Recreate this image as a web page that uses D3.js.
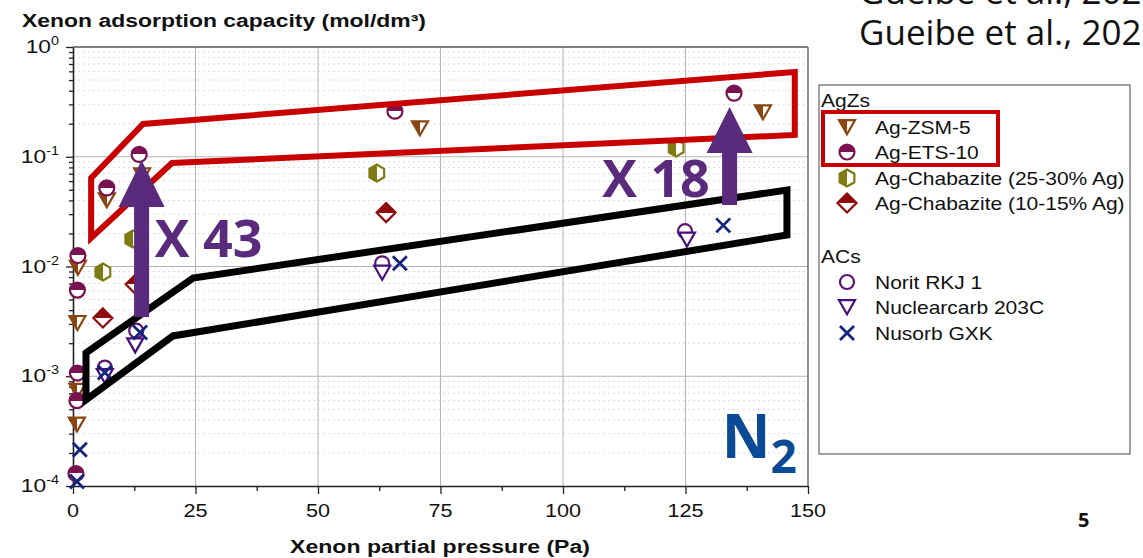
<!DOCTYPE html>
<html><head><meta charset="utf-8">
<script src="https://cdn.jsdelivr.net/npm/d3@7"></script>
<style>body{margin:0;background:#fff}svg{display:block}</style>
</head><body><svg id="c" width="1143" height="558"></svg>
<script>
// ---------- data ----------
const xTickValues=[0,25,50,75,100,125,150];
const yTickExponents=[0,-1,-2,-3,-4];
const seriesNames=["Ag-ZSM-5","Ag-ETS-10","Ag-Chabazite (25-30% Ag)","Ag-Chabazite (10-15% Ag)","Norit RKJ 1","Nuclearcarb 203C","Nusorb GXK"];
const zsm5X=[1.0,0.9,0.9,0.8,6.9,14.1,70.8,140.8];
const zsm5Y=[0.0102,0.0032,0.00077,0.00038,0.042,0.071,0.19,0.266];
const ets10X=[1.0,0.9,0.9,0.8,0.6,6.9,13.5,65.7,134.9];
const ets10Y=[0.0126,0.0061,0.00107,0.0006,0.00013,0.052,0.105,0.26,0.38];
const cha25X=[6.1,12.2,62.0,123.1];
const cha25Y=[0.0089,0.0178,0.071,0.12];
const cha10X=[6.1,12.7,63.9];
const cha10Y=[0.0034,0.0069,0.031];
const noritX=[6.5,12.9,63.1,124.9];
const noritY=[0.0012,0.0026,0.0107,0.021];
const nucX=[6.5,12.7,63.1,125.3];
const nucY=[0.00105,0.0020,0.0092,0.0184];
const nusorbX=[1.4,0.8,6.5,13.7,66.7,132.7];
const nusorbY=[0.000214,0.00011,0.00108,0.0025,0.0107,0.0237];
// annotation outlines (data units)
const redBox=[[3.7,0.064],[14.3,0.199],[147.3,0.592],[147.3,0.158],[20.2,0.0877],[3.7,0.0182]];
const blackBox=[[2.65,0.00163],[24.5,0.00785],[145.7,0.0498],[145.7,0.0194],[20.4,0.00233],[2.65,0.00061]];
const arrows=[{x:14.0,tip:0.093,base:0.0348,bottom:0.00347},{x:134.0,tip:0.284,base:0.108,bottom:0.0363}];
const notes=[{t:"X 43",x:16.7,y:0.0122},{t:"X 18",x:108,y:0.043}];

// ---------- setup ----------
const svg=d3.select("#c");
const x=d3.scaleLinear().domain([0,150]).range([73,808]);
const y=d3.scaleLog().domain([1e-4,1]).range([486,47]);
const SX=1.2;
const FONT="'Liberation Sans', Arial, sans-serif";
function place(sel,px,py,sx){return sel.attr("transform",`translate(${px},${py}) scale(${sx},1)`);}

const defs=svg.append("defs");
function grad(id,color,dir){
  const gr=defs.append("linearGradient").attr("id",id)
    .attr("x1",0).attr("y1",0).attr("x2",dir==="left"?1:0).attr("y2",dir==="top"?1:0);
  [[0,color],[0.5,color],[0.5,"#fff"],[1,"#fff"]].forEach(s=>gr.append("stop").attr("offset",s[0]).attr("stop-color",s[1]));
  return `url(#${id})`;
}

// shapes
const shapes={
  circle:s=>d3.symbol(d3.symbolCircle,Math.PI*s*s)(),
  tri:s=>`M${-s},${-0.6*s}L${s},${-0.6*s}L0,${1.15*s}Z`,
  hex:s=>{const p=d3.range(6).map(k=>{const a=-Math.PI/2+k*Math.PI/3;return [s*Math.cos(a),s*Math.sin(a)];});return "M"+p.join("L")+"Z";},
  diamond:s=>`M0,${-s}L${s},0L0,${s}L${-s},0Z`,
  cross:s=>`M${-s},${-s}L${s},${s}M${-s},${s}L${s},${-s}`
};

const series=[
  {name:seriesNames[0],xs:zsm5X,ys:zsm5Y,shape:"tri",size:8,color:"#8a4510",half:"left"},
  {name:seriesNames[1],xs:ets10X,ys:ets10Y,shape:"circle",size:7.5,color:"#7a1150",half:"top"},
  {name:seriesNames[2],xs:cha25X,ys:cha25Y,shape:"hex",size:8.5,color:"#7f7a12",half:"left"},
  {name:seriesNames[3],xs:cha10X,ys:cha10Y,shape:"diamond",size:9.5,color:"#900c0c",half:"top"},
  {name:seriesNames[4],xs:noritX,ys:noritY,shape:"circle",size:7,color:"#5d1670",half:"none"},
  {name:seriesNames[5],xs:nucX,ys:nucY,shape:"tri",size:8,color:"#46107a",half:"none"},
  {name:seriesNames[6],xs:nusorbX,ys:nusorbY,shape:"cross",size:7,color:"#14237f",half:"none"}
];
series.forEach((s,i)=>{s.fill=s.half==="none"?(s.shape==="cross"?"none":"#fff"):grad("g"+i,s.color,s.half);});

// ---------- grid ----------
const grid=svg.append("g");
const minor=[];for(let e=-4;e<0;e++)for(let k=2;k<=9;k++)minor.push(k*Math.pow(10,e));
grid.selectAll(".mh").data(minor).join("line")
  .attr("x1",x(0)).attr("x2",x(150)).attr("y1",d=>y(d)).attr("y2",d=>y(d))
  .attr("stroke","#dcdcdc").attr("stroke-width",1).attr("stroke-dasharray","2,3");
grid.selectAll(".Mh").data([1e-3,1e-2,1e-1]).join("line")
  .attr("x1",x(0)).attr("x2",x(150)).attr("y1",d=>y(d)).attr("y2",d=>y(d))
  .attr("stroke","#b4b4b4").attr("stroke-width",1);
grid.selectAll(".Mv").data(xTickValues.slice(1,-1)).join("line")
  .attr("x1",d=>x(d)).attr("x2",d=>x(d)).attr("y1",y(1)).attr("y2",y(1e-4))
  .attr("stroke","#b4b4b4").attr("stroke-width",1);
// frame
svg.append("line").attr("x1",x(0)).attr("x2",x(150)).attr("y1",y(1)).attr("y2",y(1)).attr("stroke","#555").attr("stroke-width",1.3);
svg.append("line").attr("x1",x(150)).attr("x2",x(150)).attr("y1",y(1)).attr("y2",y(1e-4)).attr("stroke","#555").attr("stroke-width",1.3);

// ---------- axes ----------
const decades=yTickExponents.map(e=>Math.pow(10,e));
const ax=svg.append("g").attr("transform",`translate(${x(0)},0)`);
ax.call(d3.axisLeft(y).tickValues(minor).tickSize(4).tickSizeOuter(0).tickFormat(""));
ax.call(g=>g.select(".domain").remove());
const ax2=svg.append("g").attr("transform",`translate(${x(0)},0)`);
ax2.call(d3.axisLeft(y).tickValues(decades).tickSize(7).tickSizeOuter(0).tickFormat(""));
[ax,ax2].forEach(a=>a.selectAll("line").attr("stroke","#222").attr("stroke-width",1.3));
ax2.select(".domain").attr("stroke","#222").attr("stroke-width",1.6);

const bx=svg.append("g").attr("transform",`translate(0,${y(1e-4)})`);
bx.call(d3.axisBottom(x).tickValues(d3.range(12.5,150,25)).tickSize(5).tickSizeOuter(0).tickFormat(""));
bx.select(".domain").remove();
const bx2=svg.append("g").attr("transform",`translate(0,${y(1e-4)})`);
bx2.call(d3.axisBottom(x).tickValues(xTickValues).tickSize(8).tickSizeOuter(0).tickFormat(""));
[bx,bx2].forEach(a=>a.selectAll("line").attr("stroke","#222").attr("stroke-width",1.3));
bx2.select(".domain").attr("stroke","#222").attr("stroke-width",1.6);

// tick labels
xTickValues.forEach(v=>{
  place(svg.append("text"),x(v),517,SX).attr("text-anchor","middle").attr("font-family",FONT).attr("font-size",18).attr("fill","#111").text(v);
});
yTickExponents.forEach(e=>{
  const t=place(svg.append("text"),59,y(Math.pow(10,e))+6,SX).attr("text-anchor","end").attr("font-family",FONT).attr("font-size",19).attr("fill","#111");
  t.append("tspan").text("10");
  t.append("tspan").attr("dy",-8).attr("font-size",12).text(e);
});
// titles
svg.append("text").attr("x",22).attr("y",27).attr("font-family",FONT).attr("font-weight","bold").attr("font-size",18)
  .attr("textLength",404).attr("lengthAdjust","spacingAndGlyphs").attr("fill","#111").text("Xenon adsorption capacity (mol/dm³)");
svg.append("text").attr("x",290).attr("y",553).attr("font-family",FONT).attr("font-weight","bold").attr("font-size",18)
  .attr("textLength",300).attr("lengthAdjust","spacingAndGlyphs").attr("fill","#111").text("Xenon partial pressure (Pa)");

// ---------- data ----------
function drawMarker(g,s,px,py){
  g.append("path").attr("d",shapes[s.shape](s.size)).attr("transform",`translate(${px},${py})`)
    .attr("fill",s.fill).attr("stroke",s.color).attr("stroke-width",s.shape==="cross"?2.8:2.2).attr("stroke-linejoin","miter");
}
const dg=svg.append("g");
series.forEach(s=>{
  const pts=s.xs.map((v,i)=>[v,s.ys[i]]);
  const gg=dg.append("g");
  gg.selectAll("path").data(pts).join("path")
    .attr("d",shapes[s.shape](s.size))
    .attr("transform",d=>`translate(${x(d[0])},${y(d[1])})`)
    .attr("fill",s.fill).attr("stroke",s.color).attr("stroke-width",s.shape==="cross"?2.8:2.2);
});

// ---------- annotations ----------
const line=d3.line().x(d=>x(d[0])).y(d=>y(d[1]));
svg.append("path").attr("d",line(redBox)+"Z").attr("fill","none").attr("stroke","#c80000").attr("stroke-width",6).attr("stroke-linejoin","miter");
svg.append("path").attr("d",line(blackBox)+"Z").attr("fill","none").attr("stroke","#000").attr("stroke-width",7).attr("stroke-linejoin","miter");
const AC="#5a2a7c";
arrows.forEach(a=>{
  const cx=x(a.x),hw=23,sw=7.5;
  const p=[[cx-sw,y(a.bottom)],[cx-sw,y(a.base)],[cx-hw,y(a.base)],[cx,y(a.tip)],[cx+hw,y(a.base)],[cx+sw,y(a.base)],[cx+sw,y(a.bottom)]];
  svg.append("path").attr("d","M"+p.join("L")+"Z").attr("fill",AC);
});
notes.forEach(n=>{
  svg.append("text").attr("x",x(n.x)).attr("y",y(n.y)).attr("font-family","'Open Sans', sans-serif").attr("font-weight",700)
    .attr("font-size",52).attr("fill",AC).text(n.t);
});
const n2=svg.append("text").attr("x",x(132.4)).attr("y",y(0.00018)).attr("font-family","'Open Sans', sans-serif").attr("font-weight",700).attr("fill","#0a4a96");
n2.append("tspan").attr("font-size",60).text("N");
n2.append("tspan").attr("font-size",46).attr("dy",15).text("2");

// ---------- legend ----------
const lg=svg.append("g");
lg.append("rect").attr("x",819).attr("y",85).attr("width",311).attr("height",369).attr("fill","#fff").attr("stroke","#444").attr("stroke-width",1);
place(lg.append("text"),821,107,SX).attr("font-family",FONT).attr("font-size",17.5).attr("fill","#111").text("AgZs");
place(lg.append("text"),821,263,SX).attr("font-family",FONT).attr("font-size",17.5).attr("fill","#111").text("ACs");
const rows=[127,152,178,203,282,307,333];
series.forEach((s,i)=>{
  const gy=rows[i];
  drawMarker(lg,s,847,gy-(s.shape==="tri"?2:0));
  place(lg.append("text"),875,gy+6.5,SX).attr("font-family",FONT).attr("font-size",17.5).attr("fill","#111").text(s.name);
});
lg.append("rect").attr("x",823).attr("y",112).attr("width",175).attr("height",53).attr("fill","none").attr("stroke","#c80000").attr("stroke-width",4);

// ---------- slide texts ----------
["Gueibe et al., 202","Gueibe et al., 202"].forEach((t,i)=>{
  svg.append("text").attr("x",859).attr("y",4+41*i).attr("font-family","'Open Sans', sans-serif").attr("font-size",35).attr("fill","#111").text(t);
});
svg.append("text").attr("x",1078).attr("y",527).attr("font-family","'Open Sans', sans-serif").attr("font-weight",700).attr("font-size",20).attr("fill","#111").text("5");
</script></body></html>
